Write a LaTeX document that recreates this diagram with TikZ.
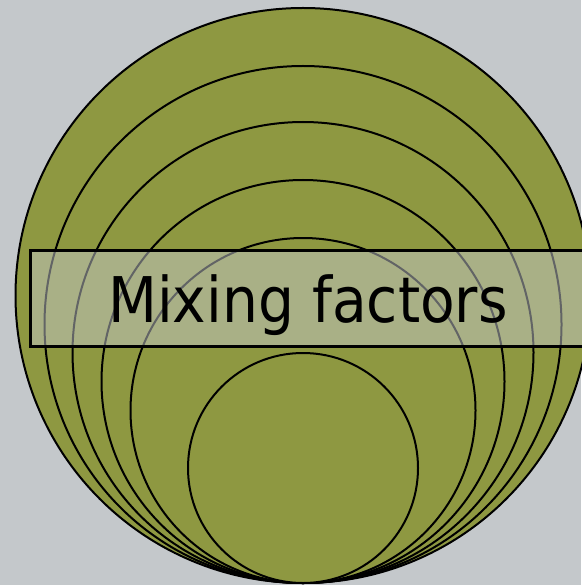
\documentclass[tikz,border=0pt]{standalone}
\usepackage{graphicx}
\usepackage{fontspec}
\setmainfont{DejaVu Sans}
\definecolor{bggrey}{HTML}{C4C8CB}
\definecolor{olive}{HTML}{8E9841}
\begin{document}
\begin{tikzpicture}[x=1pt,y=-1pt,
  ring/.style={draw=black,line width=2pt,fill=olive},
  band/.style={draw=black,line width=3pt,fill=bggrey,fill opacity=0.5,draw opacity=1,text opacity=1}]
\fill[bggrey] (0,0) rectangle (581,585);
\useasboundingbox (0,0) rectangle (581,585);
\foreach \r/\n in {287.5/c1,258.5/c2,230.5/c3,201.5/c4,172.5/c5,115/c6}{
  \draw[ring] (303,583-\r) circle[radius=\r];
}
\node[band,minimum width=580pt,minimum height=96pt,anchor=north west,inner sep=0pt] (band) at (29,249) {};
\node[font=\fontsize{63}{70}\selectfont,anchor=base,inner sep=0pt] (label) at (308,322) {\scalebox{0.9}[1]{Mixing factors}};
\end{tikzpicture}
\end{document}
